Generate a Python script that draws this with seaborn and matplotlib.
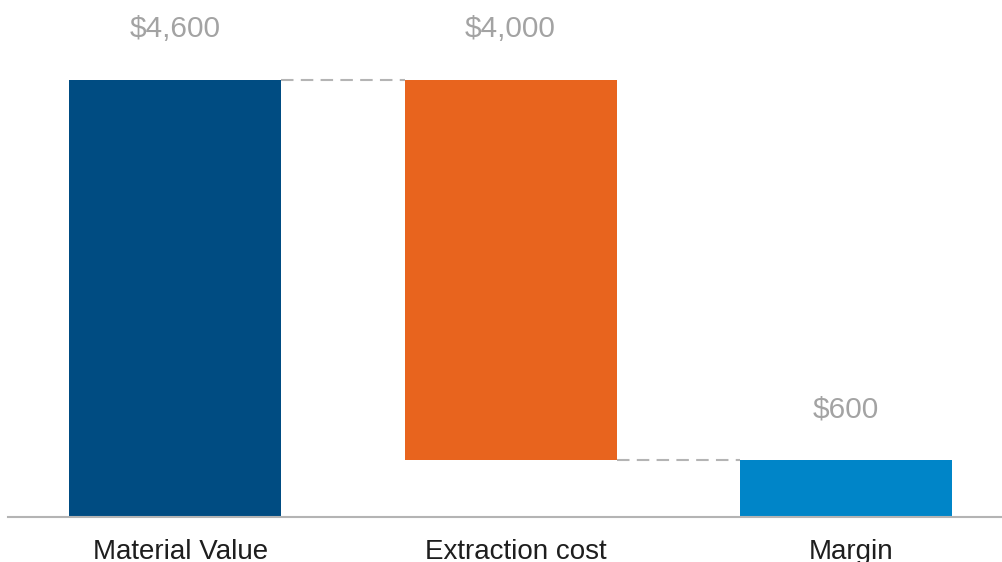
import matplotlib
matplotlib.use("Agg")
import matplotlib.pyplot as plt
import matplotlib.transforms as mtransforms
import seaborn as sns
import pandas as pd

# Waterfall: material value minus extraction cost leaves the margin
categories = ["Material Value", "Extraction cost", "Margin"]
tops = [4600, 4600, 600]
bases = [0, 600, 0]
labels = ["$4,600", "$4,000", "$600"]
colors = ["#004c82", "#e8641e", "#0085c8"]

df = pd.DataFrame({"category": categories,
                   "height": [t - b for t, b in zip(tops, bases)],
                   "base": bases, "top": tops, "label": labels})

sns.set_theme(style="white")
plt.rcParams["font.family"] = ["Liberation Sans", "DejaVu Sans"]

fig = plt.figure(figsize=(10.03, 5.62), dpi=100)
ax = fig.add_axes([8 / 1003, 45 / 562, 995 / 1003, 517 / 562])

sns.barplot(data=df, x="category", y="height", hue="category",
            palette=colors, width=0.632, legend=False, ax=ax,
            saturation=1, linewidth=0)

# lift each bar onto its base
for patch, base in zip(ax.patches, df["base"]):
    patch.set_y(base)

# connector lines between consecutive bars
half = 0.632 / 2
for i in range(len(df) - 1):
    level = df["top"][i] if i == 0 else df["base"][i]
    ax.plot([i + half, i + 1 - half], [level, level], color="#b4b4b4",
            lw=1.5, dashes=(6, 3.5), solid_capstyle="butt")

# value labels above bars
for i, row in df.iterrows():
    ax.annotate(row["label"], xy=(i, row["top"]), xytext=(0, 51),
                textcoords="offset pixels",
                ha="center", va="center", fontsize=21.5, color="#a3a3a3")

ax.set_xlim(-0.498, 2.468)
ax.set_ylim(0, 517 / 437 * 4600)
ax.set_xlabel("")
ax.set_ylabel("")
ax.set_yticks([])
ax.tick_params(axis="x", length=0, pad=16, labelsize=20, labelcolor="#1e1e1e")
shift = mtransforms.ScaledTranslation(5 / 100, 0, fig.dpi_scale_trans)
for lbl in ax.get_xticklabels():
    lbl.set_transform(lbl.get_transform() + shift)
for s in ["top", "left", "right"]:
    ax.spines[s].set_visible(False)
ax.spines["bottom"].set_color("#b4b4b4")
ax.spines["bottom"].set_linewidth(1.5)

fig.savefig("out.png", dpi=100)
